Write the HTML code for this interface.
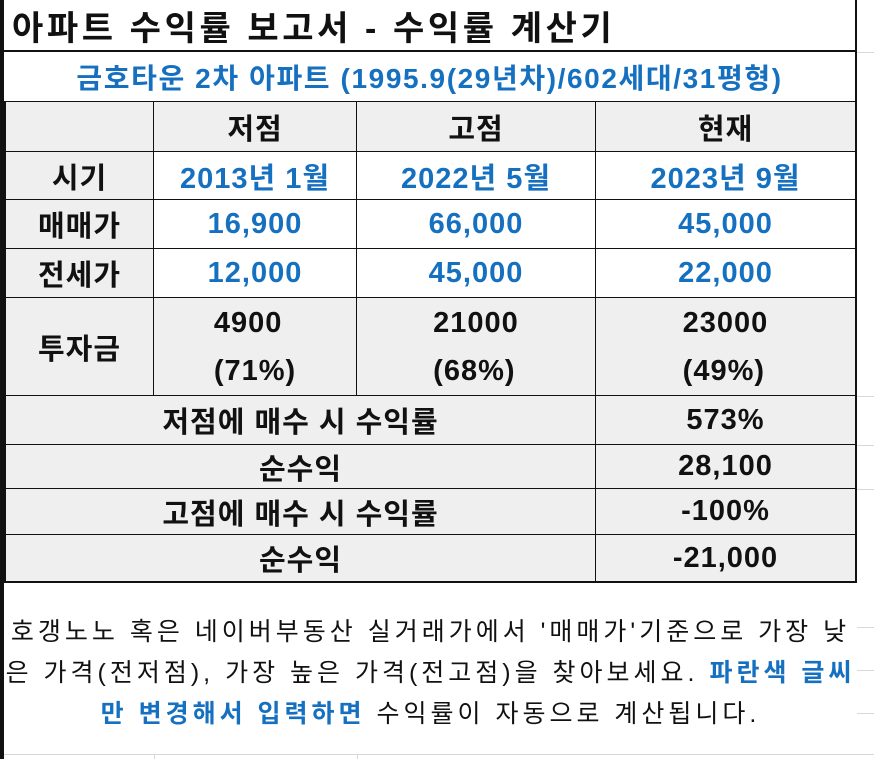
<!DOCTYPE html>
<html><head><meta charset="utf-8">
<style>
body{margin:0;width:874px;height:759px;background:#fff;position:relative;overflow:hidden;font-family:"Liberation Sans","Noto Sans CJK KR",sans-serif;}
.c{position:absolute;box-sizing:border-box;display:flex;align-items:center;justify-content:center;font-weight:bold;font-size:29px;letter-spacing:1px;color:#111;}
.g{background:#efefef;}
.b{color:#1570c0;}
.h{position:absolute;background:#111;}
.lt{position:absolute;background:#d8d8d8;}
.txt{position:absolute;left:4px;width:853px;text-align:center;font-size:25px;letter-spacing:4px;color:#111;}
</style></head><body>
<div class="h" style="left:0;top:0;width:4px;height:759px"></div>
<div class="lt" style="left:857px;top:52px;width:17px;height:1px"></div>
<div class="lt" style="left:857px;top:396px;width:17px;height:1px"></div>
<div class="lt" style="left:857px;top:445px;width:17px;height:1px"></div>
<div class="lt" style="left:857px;top:489px;width:17px;height:1px"></div>
<div class="lt" style="left:857px;top:627px;width:17px;height:1px"></div>
<div class="lt" style="left:857px;top:670px;width:17px;height:1px"></div>
<div class="lt" style="left:857px;top:713px;width:17px;height:1px"></div>
<div class="lt" style="left:4px;top:754px;width:870px;height:1px"></div>
<div class="lt" style="left:154px;top:754px;width:1px;height:5px"></div>
<div class="lt" style="left:357px;top:754px;width:1px;height:5px"></div>

<div class="c" style="left:4px;top:0;width:853px;height:52px;justify-content:flex-start;padding-left:8px;font-size:34px;letter-spacing:3.6px;border-bottom:2px solid #111;border-right:2px solid #111">아파트 수익률 보고서 - 수익률 계산기</div>
<div class="c b" style="left:4px;top:52px;width:853px;height:50px;font-size:28px;letter-spacing:1.6px;border-right:2px solid #111;border-bottom:1px solid #111">금호타운 2차 아파트 (1995.9(29년차)/602세대/31평형)</div>

<div id="grid"></div>

<div class="txt" style="top:612px">호갱노노 혹은 네이버부동산 실거래가에서 '매매가'기준으로 가장 낮</div>
<div class="txt" style="top:653px">은 가격(전저점), 가장 높은 가격(전고점)을 찾아보세요. <b style="color:#1570c0">파란색 글씨</b></div>
<div class="txt" style="top:694px"><b style="color:#1570c0">만 변경해서 입력하면</b> 수익률이 자동으로 계산됩니다.</div>

<script>
const colX=[4,154,357,596,857];
const rowY=[102,152,200,249,298,396,445,489,535,583];
const rows=[
 ["", "저점","고점","현재"],
 ["시기","2013년 1월","2022년 5월","2023년 9월"],
 ["매매가","16,900","66,000","45,000"],
 ["전세가","12,000","45,000","22,000"],
 ["투자금","4900<br>(71%)","21000<br>(68%)","23000<br>(49%)"]
];
const summary=[["저점에 매수 시 수익률","573%"],["순수익","28,100"],["고점에 매수 시 수익률","-100%"],["순수익","-21,000"]];
const names=["header","period","sale-price","jeonse-price","investment"];
const g=document.getElementById('grid');
function cell(x,y,w,h,html,cls,name){
 const d=document.createElement('div');
 d.className='c '+cls;
 
 
 d.style.cssText=`left:${x}px;top:${y}px;width:${w}px;height:${h}px;border-right:${x+w>=857?2:1}px solid #111;border-bottom:1px solid #111;${x==4?'border-left:2px solid #111;':''}`;
 d.innerHTML=html;
 if(html.includes('<br>'))d.style.lineHeight='48px',d.style.flexDirection='column';
 g.appendChild(d);
}
rows.forEach((r,i)=>{
 r.forEach((t,j)=>{
  let cls='';
  if(i==0||j==0||i==4)cls='g';
  if((i==1||i==2||i==3)&&j>0)cls='b';
  cell(colX[j],rowY[i],colX[j+1]-colX[j],rowY[i+1]-rowY[i],t,cls,names[i]+'-cell');
 });
});
summary.forEach((s,i)=>{
 const y=rowY[5+i],h=rowY[6+i]-y;
 cell(4,y,592,h,s[0],'g','summary-label');
 cell(596,y,261,h,s[1],'g','summary-value');
});
const last=g.lastChild;last.style.borderBottom='2px solid #111';
g.children[g.children.length-2].style.borderBottom='2px solid #111';
</script>
</body></html>
